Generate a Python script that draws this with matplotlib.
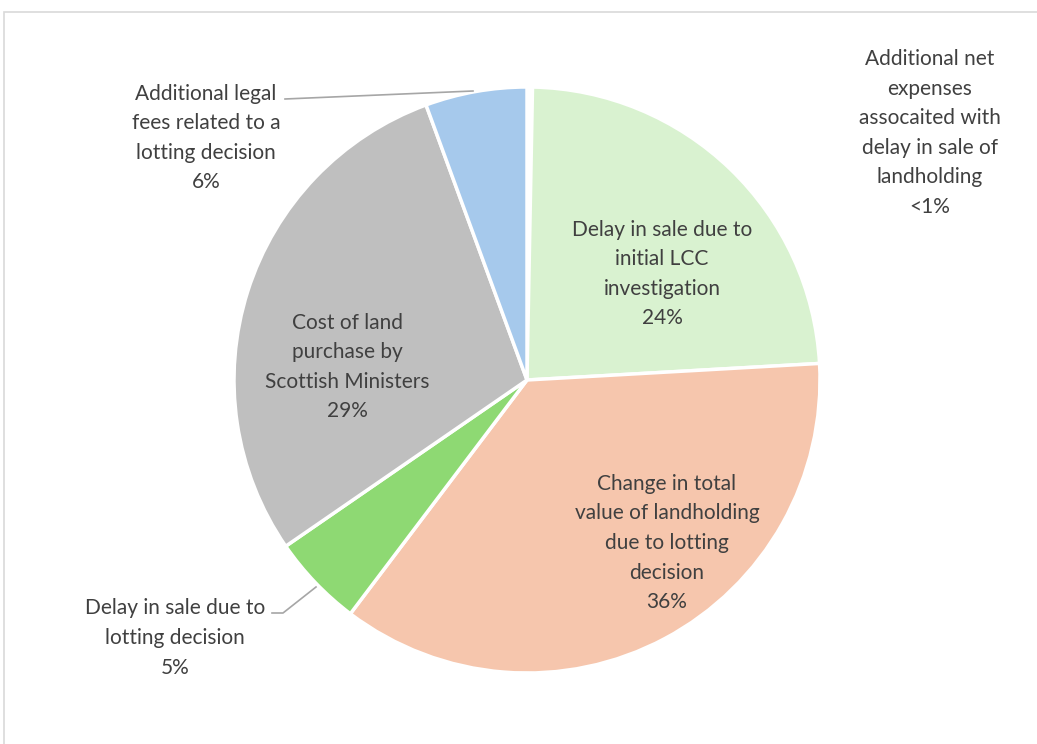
import matplotlib

matplotlib.use("Agg")

import matplotlib.pyplot as plt
from matplotlib.patches import Rectangle

# cost components, in slice order clockwise from 12 o'clock
categories = [
    "Additional net\nexpenses\nassocaited with\ndelay in sale of\nlandholding",
    "Delay in sale due to\ninitial LCC\ninvestigation",
    "Change in total\nvalue of landholding\ndue to lotting\ndecision",
    "Delay in sale due to\nlotting decision",
    "Cost of land\npurchase by\nScottish Ministers",
    "Additional legal\nfees related to a\nlotting decision",
]
shares = [0.3, 23.8, 36.2, 5.1, 29.0, 5.6]
pct_labels = ["<1%", "24%", "36%", "5%", "29%", "6%"]
colors = ["#ffffff", "#d9f2d0", "#f6c6ad", "#8ed973", "#bfbfbf", "#a6c9ec"]

W, H = 1037, 744
text_color = "#404040"
plt.rcParams["font.family"] = ["Lato", "DejaVu Sans"]

fig = plt.figure(figsize=(W / 100, H / 100), dpi=100)
ax = fig.add_axes([0, 0, 1, 1])

# chart area frame, running off the right and bottom edges
fig.patches.append(
    Rectangle((4, -10), W + 20, H - 12 + 10, transform=None,
              fill=False, edgecolor="#d9d9d9", linewidth=1.2)
)

cx, cy, r = 527, H - 380, 293
ax.pie(
    shares,
    colors=colors,
    startangle=90,
    counterclock=False,
    center=(cx, cy),
    radius=r,
    wedgeprops=dict(edgecolor="white", linewidth=2.5),
)
ax.set_xlim(0, W)
ax.set_ylim(0, H)
ax.set_aspect("equal")
ax.axis("off")

# label anchor points (pixel x, pixel y from top)
label_pos = [(930, 133), (662, 274), (667, 543), (175, 638), (347, 367), (206, 138)]
for name, pct, (px, py) in zip(categories, pct_labels, label_pos):
    ax.text(px, H - py, f"{name}\n{pct}", ha="center", va="center",
            fontsize=15, color=text_color, linespacing=1.6)

# leader lines for the two outside labels
ax.plot([285, 473], [H - 99, H - 91], color="#a6a6a6", linewidth=1.2)
ax.plot([272, 283, 316], [H - 613, H - 613, H - 587], color="#a6a6a6", linewidth=1.2)

fig.savefig("out.png", dpi=100)
plt.close(fig)
